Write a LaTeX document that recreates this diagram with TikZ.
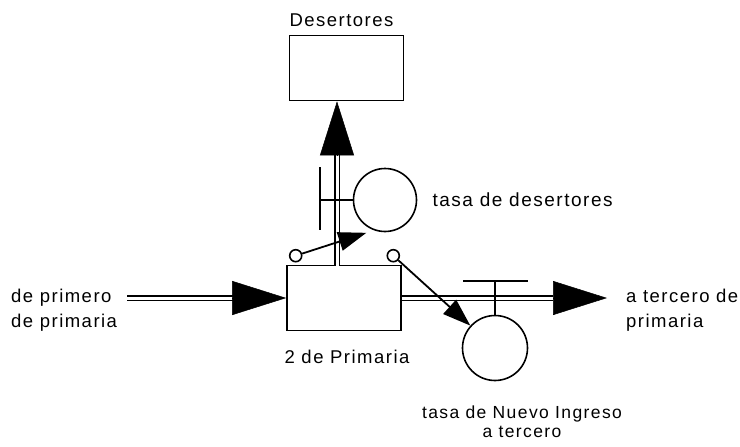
\documentclass[tikz,border=0pt]{standalone}
\usepackage{fontspec}
\setmainfont[LetterSpace=8]{Liberation Sans}
\usetikzlibrary{shapes.geometric, arrows.meta}
\tikzstyle{stock} = [rectangle, minimum width=114pt, minimum height=65pt, draw=black, line width=1.6pt]
\tikzstyle{aux} = [circle, minimum size=63pt, inner sep=0pt, draw=black, line width=1.6pt]
\tikzstyle{cloudlet} = [circle, minimum size=12pt, inner sep=0pt, draw=black, line width=1.6pt]
\tikzstyle{pipe} = [draw=black, double=white, double distance=3pt, line width=1.5pt]
\tikzstyle{flowtip} = [line width=0.5pt, -{Triangle[length=54pt, width=34pt]}]
\tikzstyle{arrow} = [line width=1.8pt, -{Triangle[length=28pt, width=19pt]}]
\tikzstyle{valve} = [line width=1.6pt]
\tikzstyle{txt} = [font=\fontsize{18.5pt}{25pt}\selectfont, inner sep=0pt]

\begin{document}
\begin{tikzpicture}[x=1pt, y=-1pt]
    \useasboundingbox (0,0) rectangle (740,447);

    %Main Nodes
    \node (prim) [stock] at (344,298) {};
    \node (des) [stock, above of=prim, node distance=230pt, xshift=2.5pt] {};
    \node (tasaD) [aux] at (385,200) {};
    \node (tasaN) [aux, minimum size=65pt] at (495,348) {};
    \node (sL) [cloudlet] at ([xshift=9.5pt, yshift=9pt]prim.north west) {};
    \node (sR) [cloudlet] at ([xshift=-8.5pt, yshift=9pt]prim.north east) {};

    %Free ends of the pipes
    \coordinate (inL) at (127,298);
    \coordinate (inBase) at (233,298);
    \coordinate (outBase) at (553,298);
    \coordinate (outR) at (607,298);
    \coordinate (upLow) at (337,265.5);
    \coordinate (upBase) at (337,155);

    %Texts
    \node (desText) [txt, above of=des, node distance=48pt, xshift=-5pt] {Desertores};
    \node (primText) [txt, below of=prim, node distance=59pt, xshift=3pt] {2 de Primaria};
    \node (tasaDText) [txt, font=\fontsize{19pt}{25pt}\selectfont, anchor=west] at ([xshift=15pt]tasaD.east) {tasa de desertores};
    \node (tasaNText) [txt, align=center, font=\fontsize{17.5pt}{19pt}\selectfont, below of=tasaN, node distance=74pt, xshift=27pt] {tasa de Nuevo Ingreso\\a tercero};
    \node (inText) [txt, align=left, anchor=west] at (11,310) {de primero\\de primaria};
    \node (outText) [txt, align=left, anchor=west] at (626,310) {a tercero de\\primaria};

    %Pipes
    \draw [pipe] (inL) -- (inBase);
    \draw [flowtip] (inBase) -- (prim.west);
    \draw [pipe] (prim.east) -- (outBase);
    \draw [flowtip] (outBase) -- (outR);
    \draw [pipe] (upLow) -- (upBase);
    \draw [flowtip] (upBase) -- (upBase |- des.south);

    %Valves
    \draw [valve] (320,167) -- (320,230);
    \draw [valve] (320,200) -- (tasaD.west);
    \draw [valve] (463,281) -- (528,281);
    \draw [valve] (495,281) -- (tasaN.north);

    %Arrows
    \draw [arrow, shorten >=8pt] (sL) -- (tasaD.250);
    \draw [arrow] (sR) -- (tasaN);

\end{tikzpicture}
\end{document}
